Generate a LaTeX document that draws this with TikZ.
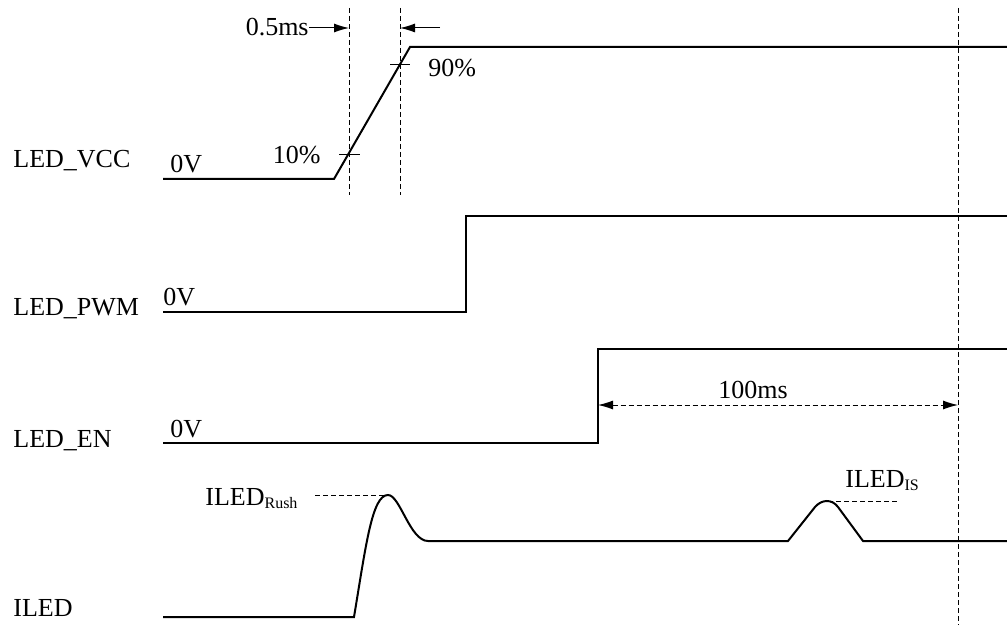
\documentclass[tikz,border=0pt]{standalone}
\usepackage{fontspec}
\setmainfont{Liberation Serif}
\usetikzlibrary{arrows, arrows.meta}
\newcommand{\lowtext}[1]{\raisebox{-1.5pt}{\fontsize{8}{9}\selectfont #1}}

\begin{document}
\begin{tikzpicture}[x=0.5pt,y=-0.5pt,
	every node/.style={inner sep=0pt,font=\fontsize{13}{15}\selectfont},
	sig/.style={line width=1pt},
	guide/.style={line width=0.5pt,dash pattern=on 2.5pt off 1.5pt},
	>={Latex[length=7.5pt,width=4.5pt]}]
\useasboundingbox (0,0) rectangle (1007,631);

% signal names
\node[anchor=base west] (vcc) at (13,168) {LED\_VCC};
\node[anchor=base west] (pwm) at (13,315) {LED\_PWM};
\node[anchor=base west] (en) at (13,447) {LED\_EN};
\node[anchor=base west] (iled) at (13,616) {ILED};
\node[anchor=base west] (vcc0) at (170,172) {0V};
\node[anchor=base west] (pwm0) at (163,305) {0V};
\node[anchor=base west] (en0) at (170,437) {0V};

% waveforms
\draw[sig] (163,179) -- (334,179) -- (410,47) -- (1007,47);
\draw[sig] (163,312) -- (466,312) -- (466,216) -- (1007,216);
\draw[sig] (163,443) -- (598,443) -- (598,349) -- (1007,349);
\draw[sig] (163,617) -- (354,617)
	.. controls (366,545) and (372,495) .. (388,495)
	.. controls (400,495) and (410,541) .. (428,541)
	-- (788,541) -- (815,507)
	.. controls (822,499) and (832,499) .. (838,507)
	-- (863,541) -- (1007,541);

% rise time
\draw[guide] (349,8) -- (349,195);
\draw[guide] (400,8) -- (400,195);
\draw[line width=0.5pt] (339,155) -- (360,155);
\draw[line width=0.5pt] (390,65) -- (410,65);
\node[anchor=base east] (p10) at (321,163) {10\%};
\node[anchor=base west] (p90) at (428,77) {90\%};
\node[anchor=base east] (tr) at (309,36) {0.5ms};
\draw[->,line width=0.5pt] (tr.east |- 0,28) -- (349,28);
\draw[->,line width=0.5pt] (440,28) -- (400,28);

% delay
\draw[guide] (958,8) -- (958,625);
\draw[guide,<->] (598,405) -- (958,405);
\node[anchor=base] (dly) at (753,398) {100ms};

% currents
\draw[guide] (315,495) -- (388,495);
\node[anchor=base west] (rush) at (205,505) {ILED\lowtext{Rush}};
\draw[guide] (828,501) -- (897,501);
\node[anchor=base west] (is) at (845,487) {ILED\lowtext{IS}};
\end{tikzpicture}
\end{document}
